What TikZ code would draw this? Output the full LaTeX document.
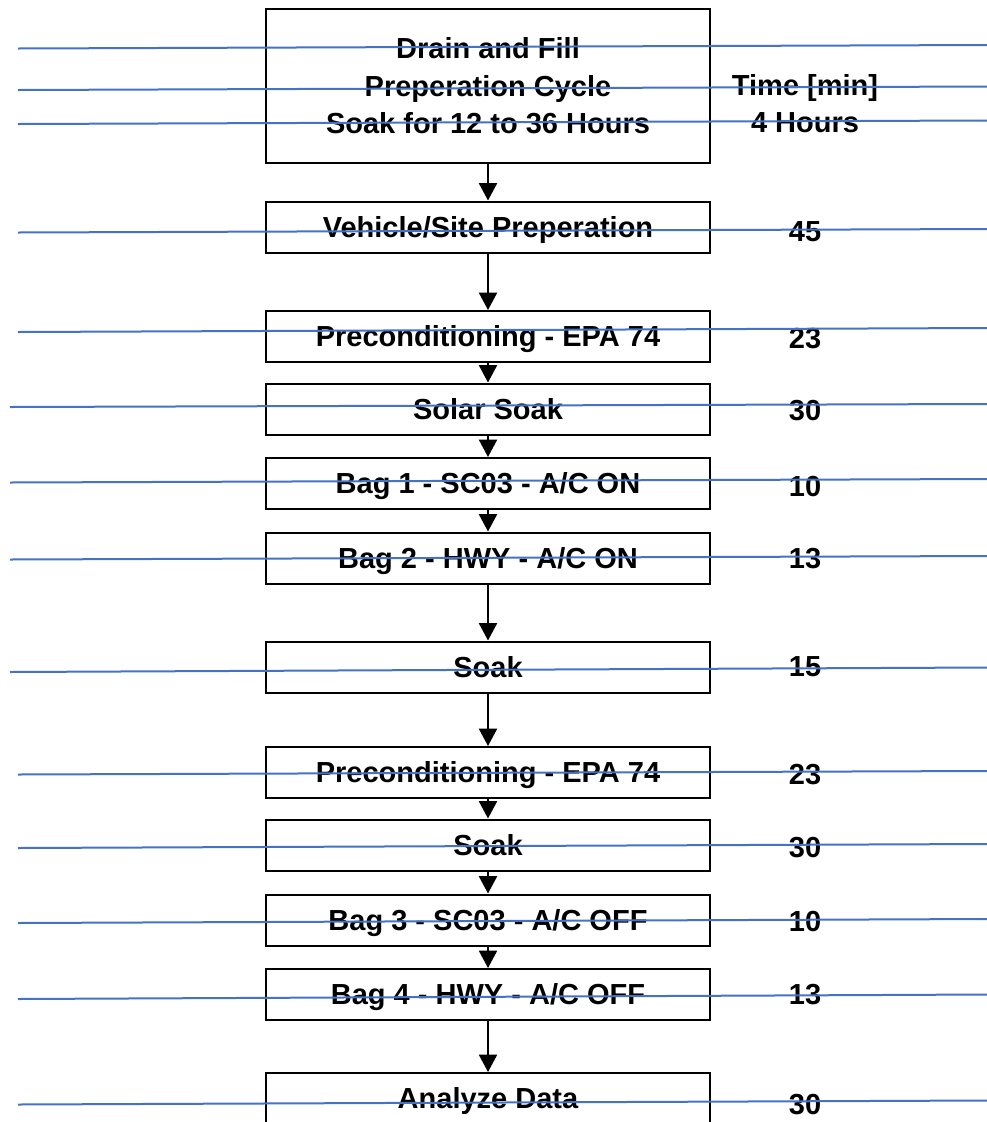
\documentclass[tikz,border=0pt]{standalone}
\usepackage{fontspec}
\setmainfont{Liberation Sans}
\usetikzlibrary{arrows.meta}
\definecolor{guideblue}{RGB}{68,114,196}

\begin{document}
\begin{tikzpicture}[x=0.75pt,y=-0.75pt,
  every node/.style={font=\fontsize{21.75pt}{28.1pt}\selectfont\bfseries},
  box/.style={draw,line width=1.5pt,minimum width=333pt,minimum height=38.25pt,inner sep=0pt},
  stage/.style={box,text height=15.6pt,text depth=0pt},
  time/.style={inner sep=0pt,text height=15.6pt,text depth=0pt},
  flow/.style={line width=1.5pt,-{Triangle[length=13pt,width=13.5pt]}},
  guide/.style={line width=1.5pt,guideblue}]
\useasboundingbox (0,0) rectangle (987,1122);
\clip (0,0) rectangle (987,1122);
% stages
\node[box,minimum height=115.5pt,align=center] (drain) at (488,85.8)
  {Drain and Fill\\Preperation Cycle\\Soak for 12 to 36 Hours};
\node[stage] (site) at (488,227) {Vehicle/Site Preperation};
\node[stage] (pcA) at (488,336.5) {Preconditioning - EPA 74};
\node[stage] (solar) at (488,409) {Solar Soak};
\node[stage] (bag1) at (488,483.5) {Bag 1 - SC03 - A/C ON};
\node[stage] (bag2) at (488,558) {Bag 2 - HWY - A/C ON};
\node[stage] (soakA) at (488,667) {Soak};
\node[stage] (pcB) at (488,772.5) {Preconditioning - EPA 74};
\node[stage] (soakB) at (488,845) {Soak};
\node[stage] (bag3) at (488,920) {Bag 3 - SC03 - A/C OFF};
\node[stage] (bag4) at (488,994.5) {Bag 4 - HWY - A/C OFF};
\node[stage] (analyze) at (488,1098.5) {Analyze Data};
% times
\node[time] (tHead) at (805,85) {Time [min]};
\node[time] (tDrain) at (805,121.7) {4 Hours};
\node[time] (tSite) at (805,231) {45};
\node[time] (tPcA) at (805,338) {23};
\node[time] (tSolar) at (805,410) {30};
\node[time] (tBag1) at (805,486) {10};
\node[time] (tBag2) at (805,558) {13};
\node[time] (tSoakA) at (805,666) {15};
\node[time] (tPcB) at (805,774.5) {23};
\node[time] (tSoakB) at (805,847.5) {30};
\node[time] (tBag3) at (805,921) {10};
\node[time] (tBag4) at (805,994) {13};
\node[time] (tAnalyze) at (805,1104) {30};
% arrows
\draw[flow] (drain) -- (site);
\draw[flow] (site) -- (pcA);
\draw[flow] (pcA) -- (solar);
\draw[flow] (solar) -- (bag1);
\draw[flow] (bag1) -- (bag2);
\draw[flow] (bag2) -- (soakA);
\draw[flow] (soakA) -- (pcB);
\draw[flow] (pcB) -- (soakB);
\draw[flow] (soakB) -- (bag3);
\draw[flow] (bag3) -- (bag4);
\draw[flow] (bag4) -- (analyze);
% blue lines
\foreach \xa/\ya/\yb in {18/48.5/45, 18/90/86.5, 18/124/120.5, 18/232.5/229,
  18/332/328, 10/407/404, 10/482.5/479, 10/559.5/556, 10/672/667.5,
  18/774.5/771, 18/848/844, 18/923/919, 18/999/994.5, 18/1104.5/1100.5}
  \draw[guide] (\xa,\ya) -- (987,\yb);
\end{tikzpicture}
\end{document}
